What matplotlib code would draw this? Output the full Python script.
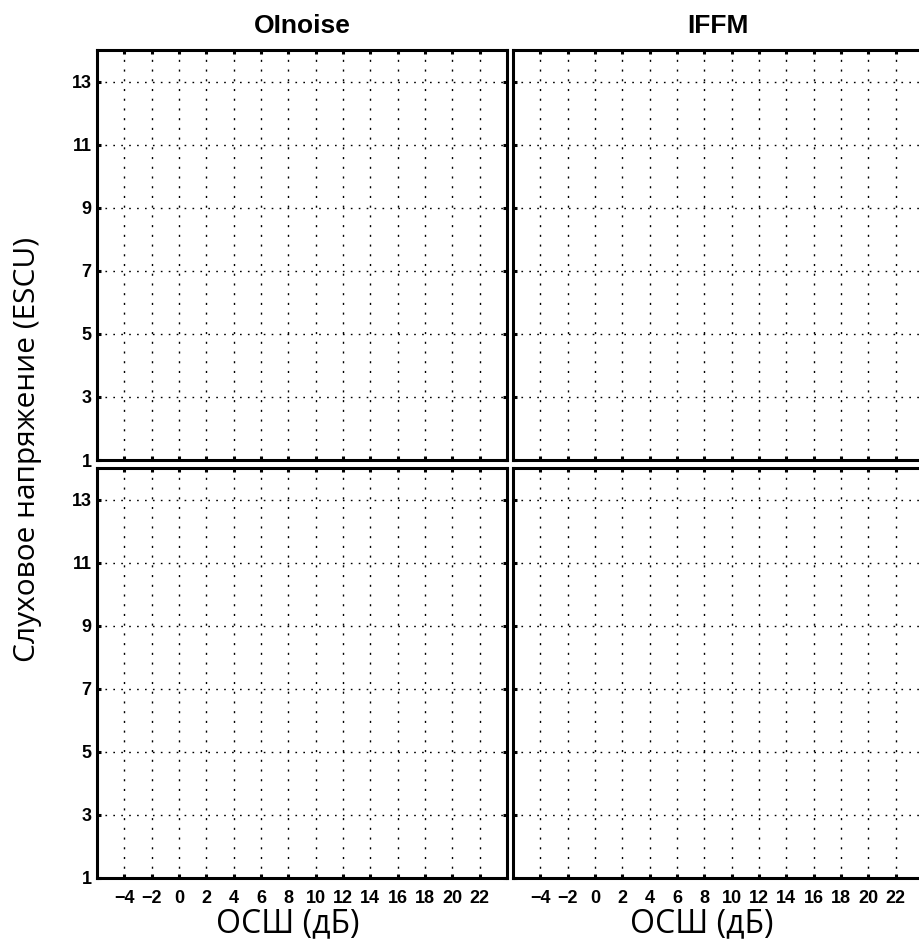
import matplotlib
matplotlib.use('Agg')
import matplotlib.pyplot as plt

titles = ['OInoise', 'IFFM']
x_ticks = [-4, -2, 0, 2, 4, 6, 8, 10, 12, 14, 16, 18, 20, 22]
y_ticks = [1, 3, 5, 7, 9, 11, 13]
x_lim = (-6, 24)
y_lim = (1, 14)
x_label = 'ОСШ (дБ)'
y_label = 'Слуховое напряжение (ESCU)'

label_font = ['Open Sans', 'Noto Sans', 'DejaVu Sans']
tick_font = ['Liberation Sans', 'DejaVu Sans']

fig = plt.figure(figsize=(9.2, 9.46), dpi=100)

# panel positions in figure fractions: [left, bottom, width, height]
lefts = [0.1054, 0.5576]
bottoms = [0.5137, 0.0719]
w, h = 0.4457, 0.4334

for row, b in enumerate(bottoms):
    for col, l in enumerate(lefts):
        ax = fig.add_axes([l, b, w, h])
        ax.set_xlim(*x_lim)
        ax.set_ylim(*y_lim)
        ax.set_xticks(x_ticks)
        ax.set_yticks(y_ticks)
        for s in ax.spines.values():
            s.set_linewidth(2.2)
        ax.tick_params(direction='in', length=3, width=2.2, top=True, right=True,
                       labelsize=13)
        ax.tick_params(axis='x', pad=9)
        ax.tick_params(axis='y', pad=4)
        for xv in x_ticks:
            ax.axvline(xv, color='black', lw=1.0, ls=(0, (1.5, 5.5)), zorder=1)
        for yv in y_ticks[1:]:
            ax.axhline(yv, color='black', lw=1.0, ls=(0, (1.2, 4.5)), zorder=1)
        if row == 0:
            ax.set_xticklabels([])
            ax.set_title(titles[col], fontsize=19, fontweight='bold',
                         family=tick_font, pad=12)
        else:
            ax.set_xticklabels([str(v).replace('-', '\u2212') for v in x_ticks],
                               fontweight='bold', family=tick_font)
        if col == 0:
            ax.set_yticklabels([str(v) for v in y_ticks], fontweight='bold',
                               family=tick_font)
        else:
            ax.set_yticklabels([])

fig.text(288 / 920, 1 - 924 / 946, x_label, ha='center', va='center',
         fontsize=23, family=label_font)
fig.text(702 / 920, 1 - 924 / 946, x_label, ha='center', va='center',
         fontsize=23, family=label_font)
fig.text(28 / 920, 1 - 449 / 946, y_label, ha='center', va='center',
         rotation=90, fontsize=21.5, family=label_font)

fig.savefig('out.png', dpi=100)
